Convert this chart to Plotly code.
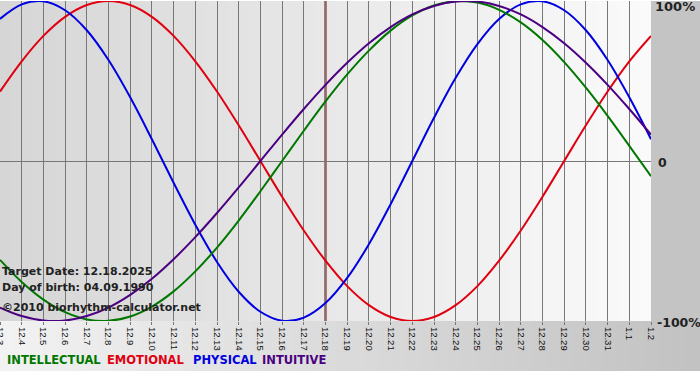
import plotly.graph_objects as go

# ---- data ----
tick_labels = ["12.3", "12.4", "12.5", "12.6", "12.7", "12.8", "12.9", "12.10", "12.11",
               "12.12", "12.13", "12.14", "12.15", "12.16", "12.17", "12.18", "12.19",
               "12.20", "12.21", "12.22", "12.23", "12.24", "12.25", "12.26", "12.27",
               "12.28", "12.29", "12.30", "12.31", "1.1", "1.2"]
days = list(range(len(tick_labels)))

physical = [0.888, 0.979, 0.998, 0.942, 0.817, 0.631, 0.398, 0.136, -0.136, -0.398,
            -0.631, -0.817, -0.942, -0.998, -0.979, -0.888, -0.731, -0.520, -0.270, 0.0,
            0.270, 0.520, 0.731, 0.888, 0.979, 0.998, 0.942, 0.817, 0.631, 0.398, 0.136]
emotional = [0.434, 0.623, 0.782, 0.901, 0.975, 1.0, 0.975, 0.901, 0.782, 0.623,
             0.434, 0.223, 0.0, -0.223, -0.434, -0.623, -0.782, -0.901, -0.975, -1.0,
             -0.975, -0.901, -0.782, -0.623, -0.434, -0.223, 0.0, 0.223, 0.434, 0.623, 0.782]
intellectual = [-0.618, -0.756, -0.866, -0.945, -0.990, -0.999, -0.972, -0.910, -0.815, -0.690,
                -0.541, -0.372, -0.189, 0.0, 0.189, 0.372, 0.541, 0.690, 0.815, 0.910,
                0.972, 0.999, 0.990, 0.945, 0.866, 0.756, 0.618, 0.458, 0.282, 0.095, -0.095]
intuitive = [-0.916, -0.969, -0.997, -0.997, -0.969, -0.916, -0.837, -0.736, -0.614, -0.476,
             -0.325, -0.165, 0.0, 0.165, 0.325, 0.476, 0.614, 0.736, 0.837, 0.916,
             0.969, 0.997, 0.997, 0.969, 0.916, 0.837, 0.736, 0.614, 0.476, 0.325, 0.165]
target_index = 15
y_tick_labels = ["100%", "0", "-100%"]

series = [
    ("INTELLECTUAL", intellectual, "#007800"),
    ("EMOTIONAL", emotional, "#e00010"),
    ("PHYSICAL", physical, "#0000e0"),
    ("INTUITIVE", intuitive, "#4b0082"),
]

W, H = 700, 380
PW, PH = 651, 320
ML, MT = 0, 1
MB = H - MT - PH
MR = W - ML - PW

fig = go.Figure()
for name, vals, col in [series[1], series[2], series[0], series[3]]:
    fig.add_trace(go.Scatter(x=days, y=vals, mode="lines", name=name,
                             line=dict(color=col, width=2, shape="spline", smoothing=1.0),
                             showlegend=False, hoverinfo="skip"))

shapes = []
# plot-area horizontal gradient
N = 60
x0, x1 = days[0], days[-1]
step = (x1 - x0) / N
for i in range(N):
    t = i / (N - 1)
    c = int(round(0xd6 + (0xfa - 0xd6) * t))
    shapes.append(dict(type="rect", xref="x", yref="paper",
                       x0=x0 + step * i, x1=x0 + step * (i + 1) + step * 0.6,
                       y0=0, y1=1, fillcolor=f"rgb({c},{c},{c})", line_width=0, layer="below"))
# right grey panel
shapes.append(dict(type="rect", xref="paper", yref="paper", x0=1, x1=W / PW + 0.01, y0=0, y1=1,
                   fillcolor="#c4c4c4", line_width=0, layer="below"))
# bottom gradient band
band_h = 50 / PH
M = 50
bstep = (W / PW) / M
for i in range(M):
    t = i / (M - 1)
    c = int(round(0xf2 + (0xc2 - 0xf2) * t))
    shapes.append(dict(type="rect", xref="paper", yref="paper",
                       x0=bstep * i, x1=bstep * (i + 1) + bstep * 0.6,
                       y0=-band_h, y1=0, fillcolor=f"rgb({c},{c},{c})", line_width=0,
                       layer="below"))
# target date line
shapes.append(dict(type="line", xref="x", yref="paper", x0=days[target_index], x1=days[target_index],
                   y0=0, y1=1, line=dict(color="#780000", width=2), layer="between"))

annotations = []
info_font = dict(family="DejaVu Sans", size=11, color="#222222")
for txt, ypx in [("<b>Target Date: 12.18.2025</b>", 271),
                 ("<b>Day of birth: 04.09.1990</b>", 287),
                 ("<b>©2010 biorhythm-calculator.net</b>", 307)]:
    annotations.append(dict(text=txt, xref="paper", yref="paper", x=0,
                            y=1 - (ypx - MT) / PH, xanchor="left", yanchor="middle",
                            showarrow=False, font=info_font))
# right axis labels
right_pos = {"100%": (653, 13, 4), "0": (656, 12.5, -1), "-100%": (655, 12.5, -1)}
for lab, yv in zip(y_tick_labels, [1, 0, -1]):
    xp, fs, ys = right_pos[lab]
    annotations.append(dict(text=f"<b>{lab}</b>", xref="paper", yref="y",
                            x=xp / PW, y=yv, xanchor="left",
                            yanchor=("top" if yv == 1 else "middle"), yshift=ys,
                            showarrow=False, font=dict(family="DejaVu Sans", size=fs, color="#222222")))
# legend words
for (name, vals, col), xpx in zip(series, [5, 105, 191, 260]):
    annotations.append(dict(text=f"<b>{name}</b>", xref="paper", yref="paper", x=xpx / PW,
                            y=1 - (360 - MT) / PH, xanchor="left", yanchor="middle",
                            showarrow=False, font=dict(family="DejaVu Sans", size=11.5, color=col)))

fig.update_layout(
    width=W, height=H,
    margin=dict(l=ML, r=MR, t=MT, b=MB, pad=0, autoexpand=False),
    paper_bgcolor="white", plot_bgcolor="#e6e6e6",
    shapes=shapes, annotations=annotations,
    xaxis=dict(range=[x0, x1], tickmode="array", tickvals=days, ticktext=tick_labels,
               tickangle=90, showgrid=True, gridcolor="#777777", gridwidth=1.3,
               ticks="outside", ticklen=3, tickcolor="#777777", ticklabeloverflow="allow",
               tickfont=dict(family="Liberation Sans", size=9.5, color="#111111"),
               automargin=False,
               zeroline=False, showline=False, fixedrange=True),
    yaxis=dict(range=[-1, 1], tickmode="array", tickvals=[-1, 0, 1], showticklabels=False,
               showgrid=True, gridcolor="#777777", gridwidth=1.3, zeroline=False,
               automargin=False, showline=False, fixedrange=True),
    showlegend=False,
)

fig.write_html("out.html", config={"displayModeBar": False},
               post_script="document.body.style.margin='0';document.body.style.overflow='hidden';")
